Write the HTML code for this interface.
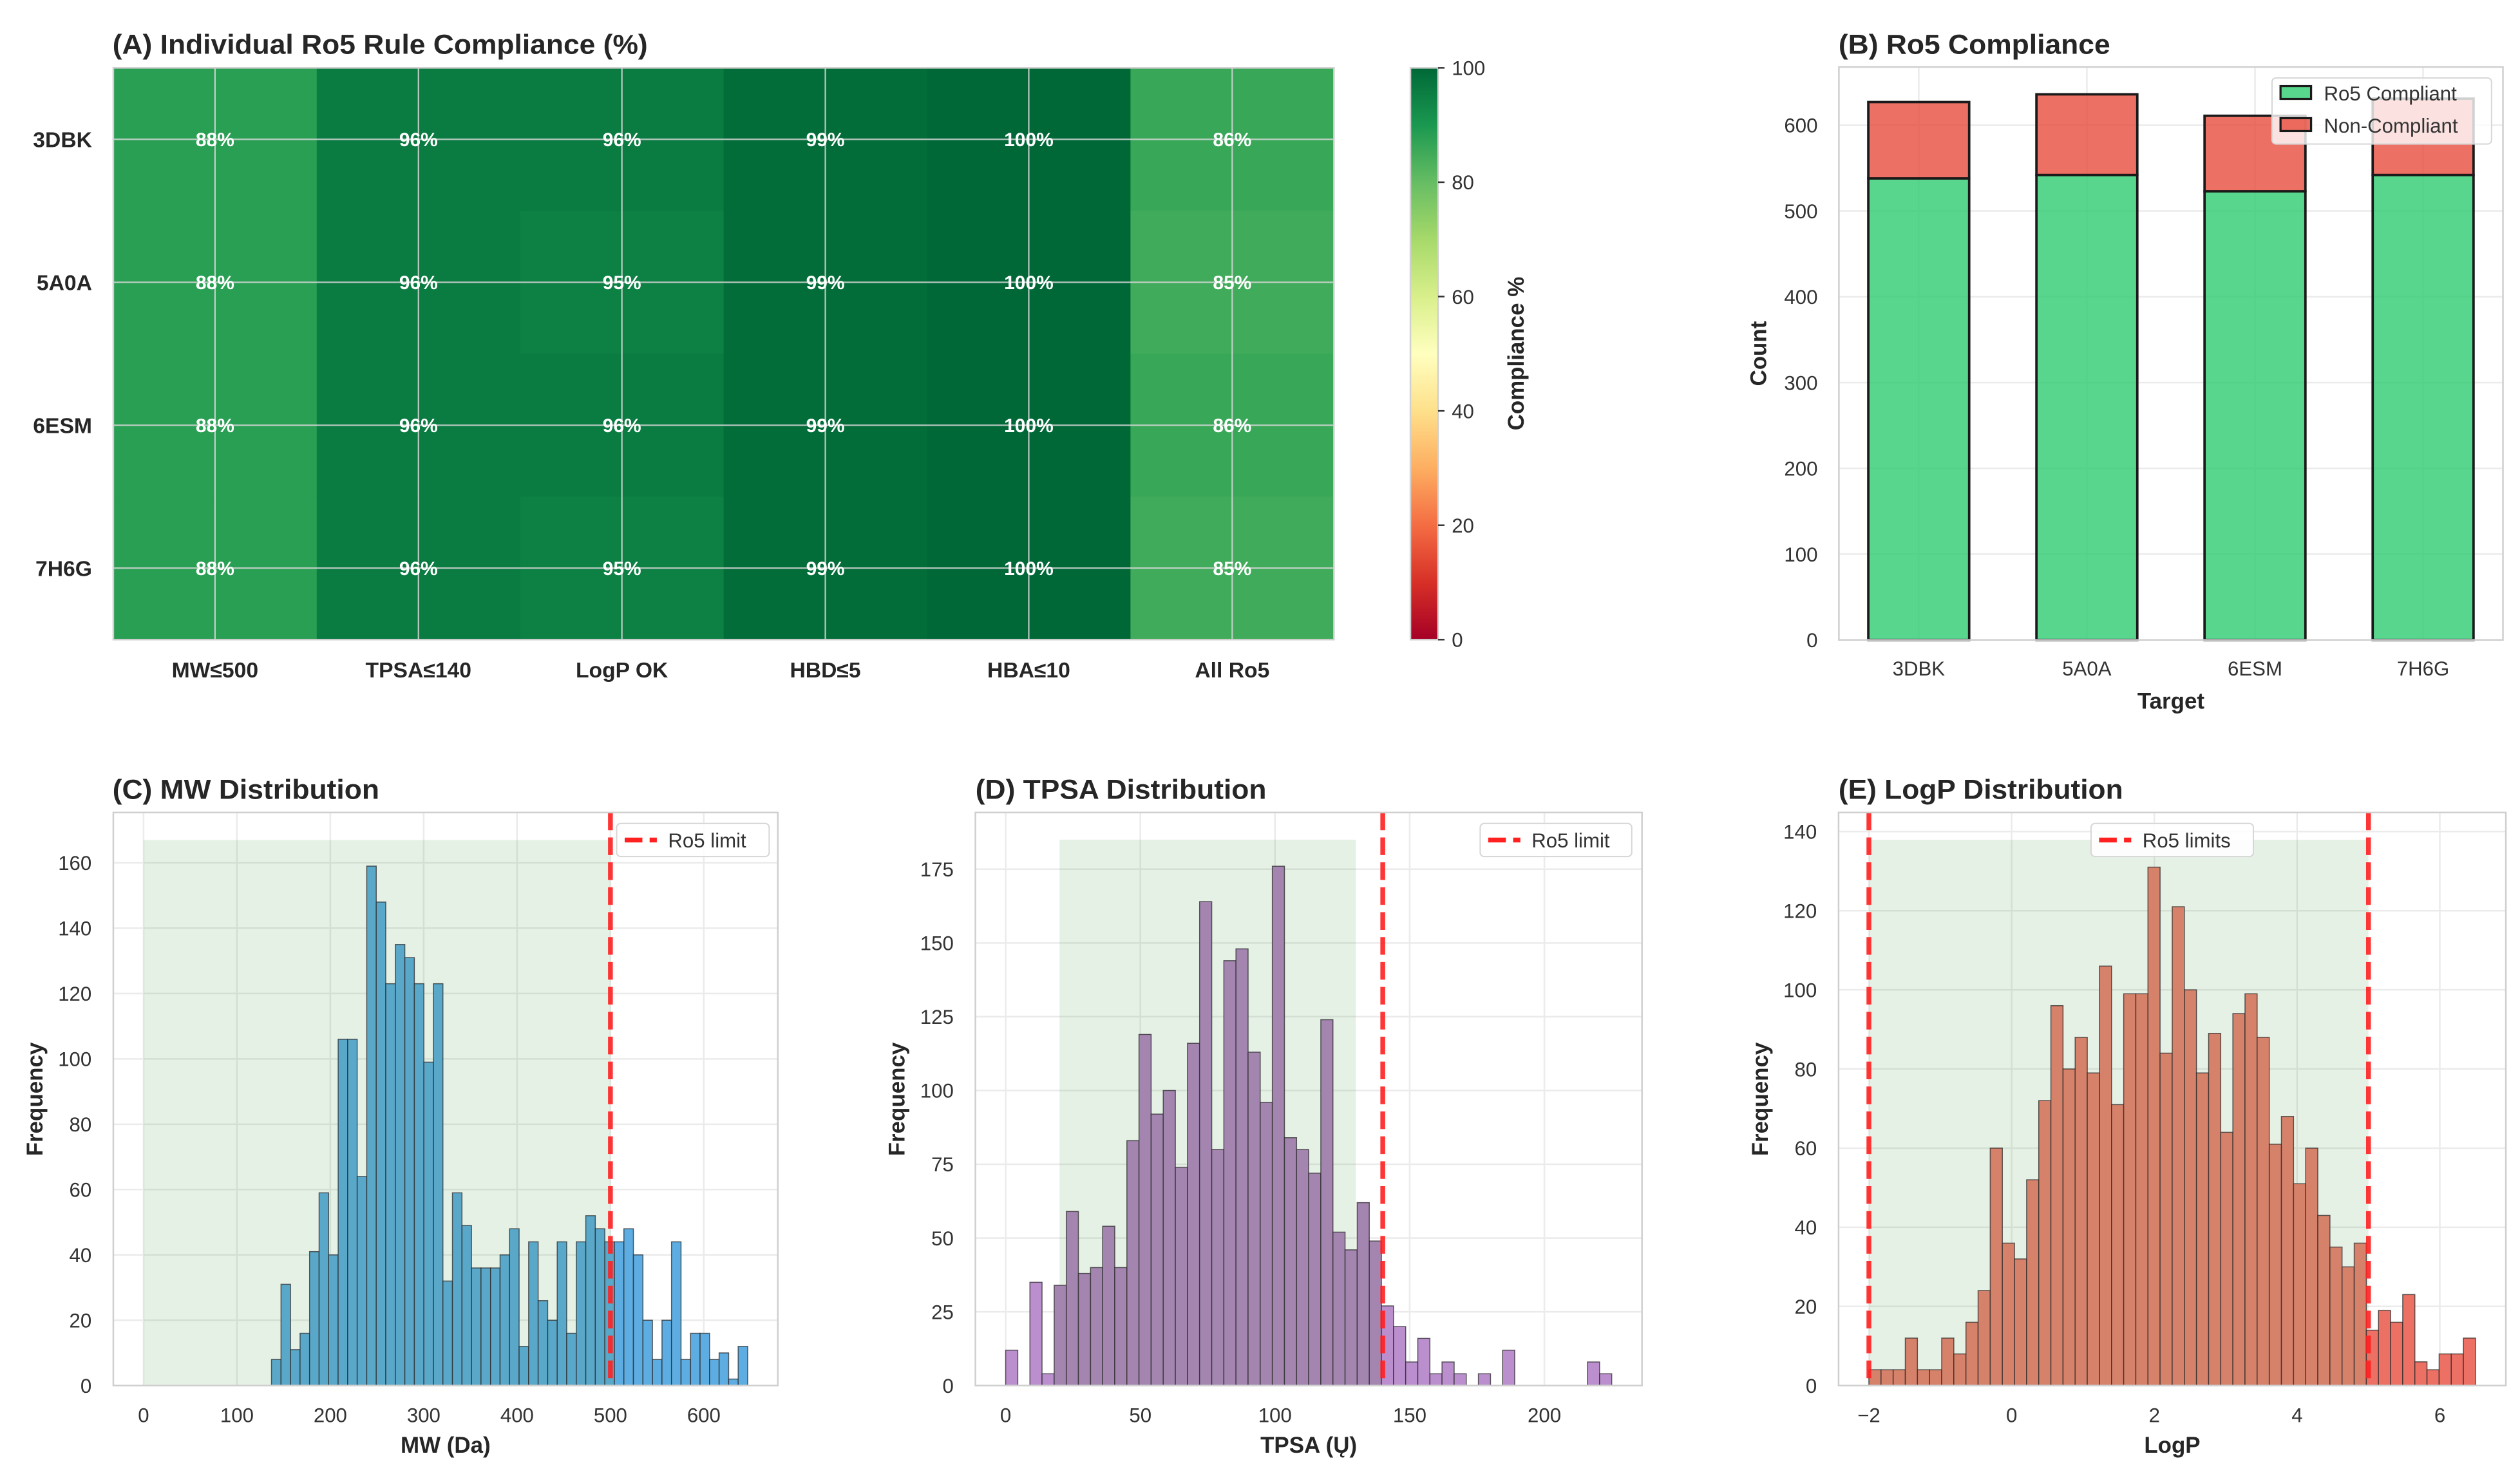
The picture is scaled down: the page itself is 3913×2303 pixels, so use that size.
<!DOCTYPE html>
<html><head><meta charset="utf-8"><title>Ro5 Compliance</title>
<style>html,body{margin:0;padding:0;background:#fff;}svg{display:block;font-family:"Liberation Sans",Arial,sans-serif;}</style>
</head><body>
<svg id="fig" xmlns="http://www.w3.org/2000/svg" width="3913" height="2303" viewBox="0 0 1568 922.8"></svg>
<script>
// ---------- DATA ----------
const heatRows = ['3DBK','5A0A','6ESM','7H6G'];
const heatCols = ['MW≤500','TPSA≤140','LogP OK','HBD≤5','HBA≤10','All Ro5'];
const heat3DBK = [88,96,96,99,100,86];
const heat5A0A = [88,96,95,99,100,85];
const heat6ESM = [88,96,96,99,100,86];
const heat7H6G = [88,96,95,99,100,85];
const cbarTicks = [0,20,40,60,80,100];

const targets = ['3DBK','5A0A','6ESM','7H6G'];
const compliant = [538,542,523,542];
const nonCompliant = [89,94,88,89];
const countTicks = [0,100,200,300,400,500,600];

const mwRange = [137,647];
const mwCounts = [8,31,11,16,41,59,40,106,106,64,159,148,123,135,131,123,99,123,32,59,49,36,36,36,40,48,12,44,26,20,44,16,44,52,48,44,44,48,40,20,8,20,44,8,16,16,8,10,2,12];
const mwXTicks = [0,100,200,300,400,500,600];
const mwYTicks = [0,20,40,60,80,100,120,140,160];

const tpsaRange = [0,225];
const tpsaCounts = [12,0,35,4,34,59,38,40,54,40,83,119,92,100,74,116,164,80,144,148,113,96,176,84,80,72,124,52,46,62,49,27,20,8,16,4,8,4,0,4,0,12,0,0,0,0,0,0,8,4];
const tpsaXTicks = [0,50,100,150,200];
const tpsaYTicks = [0,25,50,75,100,125,150,175];

const logpRange = [-2,6.5];
const logpCounts = [4,4,4,12,4,4,12,8,16,24,60,36,32,52,72,96,80,88,79,106,71,99,99,131,84,121,100,79,89,64,94,99,88,61,68,51,60,43,35,30,36,14,19,16,23,6,4,8,8,12];
const logpXTicks = [-2,0,2,4,6];
const logpYTicks = [0,20,40,60,80,100,120,140];

// ---------- HELPERS ----------
const NS='http://www.w3.org/2000/svg';
const svg=document.getElementById('fig');
function mk(tag,attrs,parent){const e=document.createElementNS(NS,tag);for(const k in attrs)e.setAttribute(k,attrs[k]);(parent||svg).appendChild(e);return e;}
function txt(s,attrs,parent){const t=mk('text',attrs,parent);t.textContent=s;return t;}
const stops=['#a50026','#d73027','#f46d43','#fdae61','#fee08b','#ffffbf','#d9ef8b','#a6d96a','#66bd63','#1a9850','#006837'];
function hx(c){return [1,3,5].map(i=>parseInt(c.substr(i,2),16));}
function rdylgn(v){let t=Math.max(0,Math.min(1,v/100))*10;let i=Math.min(9,Math.floor(t));let f=t-i;const a=hx(stops[i]),b=hx(stops[i+1]);return 'rgb('+a.map((x,k)=>Math.round(x+(b[k]-x)*f)).join(',')+')';}

// ---------- PANEL A: HEATMAP ----------
(function(){
  const g=mk('g',{});
  
  
  const L=70.5,R=830,T=42.2,B=398;
  const rowsData=[heat3DBK,heat5A0A,heat6ESM,heat7H6G];
  const cw=(R-L)/heatCols.length, ch=(B-T)/heatRows.length;
  const sx=i=>L+i*cw, sy=j=>T+j*ch;
  rowsData.forEach((row,j)=>row.forEach((v,i)=>{
    const r=mk('rect',{x:sx(i),y:sy(j),width:cw+0.3,height:ch+0.3,fill:rdylgn(v)},g);
    
    
  }));
  heatCols.forEach((c,i)=>{const l=mk('line',{x1:sx(i)+cw/2,x2:sx(i)+cw/2,y1:T,y2:B,stroke:'#d8d8d8','stroke-width':0.9,opacity:0.85},g);});
  heatRows.forEach((c,j)=>{const l=mk('line',{x1:L,x2:R,y1:sy(j)+ch/2,y2:sy(j)+ch/2,stroke:'#d8d8d8','stroke-width':0.9,opacity:0.85},g);});
  rowsData.forEach((row,j)=>row.forEach((v,i)=>{
    const t=txt(v+'%',{x:sx(i)+cw/2,y:sy(j)+ch/2+4.3,'text-anchor':'middle','font-size':12,'font-weight':'bold',fill:'#fff'},g);
    
    
  }));
  const fr=mk('rect',{x:L,y:T,width:R-L,height:B-T,fill:'none',stroke:'#cfcfcf','stroke-width':1},g);
  
  
  heatRows.forEach((r,j)=>{const t=txt(r,{x:57.3,y:sy(j)+ch/2+4.8,'text-anchor':'end','font-size':13.5,'font-weight':'bold',fill:'#262626'},g);});
  heatCols.forEach((c,i)=>{const t=txt(c,{x:sx(i)+cw/2,y:421.5,'text-anchor':'middle','font-size':13.5,'font-weight':'bold',fill:'#262626'},g);});
  const tt=txt('(A) Individual Ro5 Rule Compliance (%)',{x:70,y:33.5,'font-size':17,'font-weight':'bold',fill:'#262626',textLength:333,lengthAdjust:'spacingAndGlyphs'},g);
  
  
  const defs=mk('defs',{});
  const lg=mk('linearGradient',{id:'cbg',x1:0,y1:1,x2:0,y2:0},defs);
  stops.forEach((c,k)=>mk('stop',{offset:(k/10),'stop-color':c},lg));
  const CL=877.6,CR=894.8;
  const cb=mk('rect',{x:CL,y:T,width:CR-CL,height:B-T,fill:'url(#cbg)',stroke:'#d0d0d0','stroke-width':1},g);
  
  
  const cy=v=>B-(v/100)*(B-T);
  cbarTicks.forEach(v=>{
    const l=mk('line',{x1:CR,x2:CR+4,y1:cy(v),y2:cy(v),stroke:'#333','stroke-width':1},g);
    
    
    const t=txt(String(v),{x:CR+8.5,y:cy(v)+4.5,'font-size':12.5,fill:'#333'},g);
    
    
  });
  const ct=txt('Compliance %',{x:0,y:0,transform:'translate(948,220) rotate(-90)','text-anchor':'middle','font-size':14,'font-weight':'bold',fill:'#262626'},g);
  
  
})();

// ---------- PANEL B: STACKED BARS ----------
(function(){
  const g=mk('g',{});
  
  
  const L=1144.2,R=1557.4,T=41.7,B=398.2,xmin=-0.475,xmax=3.475,ymax=667.8;
  const sx=v=>L+(v-xmin)/(xmax-xmin)*(R-L), sy=v=>B-v/ymax*(B-T);
  countTicks.forEach(v=>{
    const l=mk('line',{x1:L,x2:R,y1:sy(v),y2:sy(v),stroke:'#ebebeb','stroke-width':1},g);
    
    
    const t=txt(String(v),{x:1131,y:sy(v)+4.5,'text-anchor':'end','font-size':12.5,fill:'#333'},g);
    
    
  });
  targets.forEach((c,i)=>{
    const l=mk('line',{x1:sx(i),x2:sx(i),y1:T,y2:B,stroke:'#ebebeb','stroke-width':1},g);
    
    
  });
  const bw=0.6;
  targets.forEach((c,i)=>{
    const x=sx(i-bw/2),w=sx(i+bw/2)-sx(i-bw/2);
    const r1=mk('rect',{x:x,y:sy(compliant[i]),width:w,height:sy(0)-sy(compliant[i]),fill:'#2ecc71','fill-opacity':0.8,stroke:'#1a1a1a','stroke-width':1.5},g);
    
    
    const top=compliant[i]+nonCompliant[i];
    const r2=mk('rect',{x:x,y:sy(top),width:w,height:sy(compliant[i])-sy(top),fill:'#e74c3c','fill-opacity':0.8,stroke:'#1a1a1a','stroke-width':1.5},g);
    
    
    const t=txt(c,{x:sx(i),y:420.3,'text-anchor':'middle','font-size':12.5,fill:'#333'},g);
    
    
  });
  const fr=mk('rect',{x:L,y:T,width:R-L,height:B-T,fill:'none',stroke:'#cfcfcf','stroke-width':1},g);
  
  
  const lgd=mk('g',{},g);
  
  
  const lb=mk('rect',{x:1413.7,y:48.5,width:136.6,height:41.1,rx:2.5,fill:'#fff','fill-opacity':0.8,stroke:'#d6d6d6','stroke-width':0.8},lgd);
  
  
  const s1=mk('rect',{x:1419,y:53.5,width:19,height:8,fill:'#2ecc71','fill-opacity':0.8,stroke:'#1a1a1a','stroke-width':1.3},lgd);
  
  
  const t1=txt('Ro5 Compliant',{x:1446,y:62.5,'font-size':12.5,fill:'#333'},lgd);
  
  
  const s2=mk('rect',{x:1419,y:73.5,width:19,height:8,fill:'#e74c3c','fill-opacity':0.8,stroke:'#1a1a1a','stroke-width':1.3},lgd);
  
  
  const t2=txt('Non-Compliant',{x:1446,y:82.5,'font-size':12.5,fill:'#333'},lgd);
  
  
  const yl=txt('Count',{x:0,y:0,transform:'translate(1099,220) rotate(-90)','text-anchor':'middle','font-size':14,'font-weight':'bold',fill:'#262626'},g);
  
  
  const xl=txt('Target',{x:1350.8,y:441,'text-anchor':'middle','font-size':14,'font-weight':'bold',fill:'#262626'},g);
  
  
  const tt=txt('(B) Ro5 Compliance',{x:1144,y:33.5,'font-size':17,'font-weight':'bold',fill:'#262626',textLength:169,lengthAdjust:'spacingAndGlyphs'},g);
  
  
})();

// ---------- HISTOGRAMS ----------
function hist(o){
  const g=mk('g',{});
  
  
  const T=505.6,B=862.2,L=o.L,R=o.R;
  const sx=v=>L+(v-o.xmin)/(o.xmax-o.xmin)*(R-L), sy=v=>B-v/o.ymax*(B-T);
  o.yTicks.forEach(v=>{
    const l=mk('line',{x1:L,x2:R,y1:sy(v),y2:sy(v),stroke:'#ebebeb','stroke-width':1},g);
    
    
    const t=txt(String(v),{x:L-13.5,y:sy(v)+4.5,'text-anchor':'end','font-size':12.5,fill:'#333'},g);
    
    
  });
  o.xTicks.forEach(v=>{
    const l=mk('line',{x1:sx(v),x2:sx(v),y1:T,y2:B,stroke:'#ebebeb','stroke-width':1},g);
    
    
    const t=txt(v<0?'\u2212'+(-v):String(v),{x:sx(v),y:885,'text-anchor':'middle','font-size':12.5,fill:'#333'},g);
    
    
  });
  const sh=mk('rect',{x:sx(o.shade[0]),y:sy(o.shadeTop),width:sx(o.shade[1])-sx(o.shade[0]),height:sy(0)-sy(o.shadeTop),fill:'#2e8b2e','fill-opacity':0.12},g);
  
  
  const n=o.counts.length,w=(o.range[1]-o.range[0])/n;
  o.counts.forEach((c,i)=>{
    if(c<=0)return;
    const a=o.range[0]+i*w,ctr=a+w/2;
    const inside=ctr>=o.shade[0]&&ctr<=o.limits[o.limits.length-1];
    const r=mk('rect',{x:sx(a),y:sy(c),width:sx(a+w)-sx(a),height:sy(0)-sy(c),fill:inside?o.cin:o.cout,stroke:'#2a2a2a','stroke-opacity':0.75,'stroke-width':0.6},g);
    
    
  });
  o.limits.forEach(v=>{
    const l=mk('line',{x1:sx(v),x2:sx(v),y1:T,y2:B,stroke:'#ff2020','stroke-opacity':0.9,'stroke-width':3,'stroke-dasharray':'11,4.5'},g);
    
    
  });
  const fr=mk('rect',{x:L,y:T,width:R-L,height:B-T,fill:'none',stroke:'#cfcfcf','stroke-width':1},g);
  
  
  const lgd=mk('g',{},g);
  
  
  const lb=mk('rect',{x:o.leg[0],y:512.4,width:o.leg[1]-o.leg[0],height:20.6,rx:2.5,fill:'#fff','fill-opacity':0.85,stroke:'#d6d6d6','stroke-width':0.8},lgd);
  
  
  const ls=mk('line',{x1:o.leg[0]+5,x2:o.leg[0]+25,y1:522.7,y2:522.7,stroke:'#ff2020','stroke-width':3,'stroke-dasharray':'11,4.5'},lgd);
  
  
  const lt=txt(o.legText,{x:o.leg[0]+32,y:527.3,'font-size':12.5,fill:'#333'},lgd);
  
  
  const yl=txt('Frequency',{x:0,y:0,transform:'translate('+(L-44)+',684) rotate(-90)','text-anchor':'middle','font-size':14,'font-weight':'bold',fill:'#262626'},g);
  
  
  const xl=txt(o.xLabel,{x:(L+R)/2,y:904,'text-anchor':'middle','font-size':14,'font-weight':'bold',fill:'#262626'},g);
  
  
  const tt=txt(o.title,{x:o.titleX,y:497,'font-size':17,'font-weight':'bold',fill:'#262626',textLength:o.titleW,lengthAdjust:'spacingAndGlyphs'},g);
  
  
}
hist({name:'mw-histogram-panel',L:70.5,R:484,xmin:-32.4,xmax:679.3,ymax:175.4,range:mwRange,counts:mwCounts,xTicks:mwXTicks,yTicks:mwYTicks,shade:[0,500],shadeTop:167,limits:[500],cin:'#5aa8c9',cout:'#5dade2',leg:[383.7,478.6],legText:'Ro5 limit',xLabel:'MW (Da)',title:'(C) MW Distribution',titleX:70,titleW:166});
hist({name:'tpsa-histogram-panel',L:606.9,R:1021.7,xmin:-11.25,xmax:236.25,ymax:194.2,range:tpsaRange,counts:tpsaCounts,xTicks:tpsaXTicks,yTicks:tpsaYTicks,shade:[20,130],shadeTop:185,limits:[140],cin:'#a385b0',cout:'#bb8fce',leg:[921,1015.3],legText:'Ro5 limit',xLabel:'TPSA (Ų)',title:'(D) TPSA Distribution',titleX:607,titleW:181});
hist({name:'logp-histogram-panel',L:1144,R:1559.2,xmin:-2.425,xmax:6.925,ymax:144.8,range:logpRange,counts:logpCounts,xTicks:logpXTicks,yTicks:logpYTicks,shade:[-2,5],shadeTop:137.9,limits:[-2,5],cin:'#d6816a',cout:'#ec7063',leg:[1301.1,1402.1],legText:'Ro5 limits',xLabel:'LogP',title:'(E) LogP Distribution',titleX:1144,titleW:177});
</script>
</body></html>
